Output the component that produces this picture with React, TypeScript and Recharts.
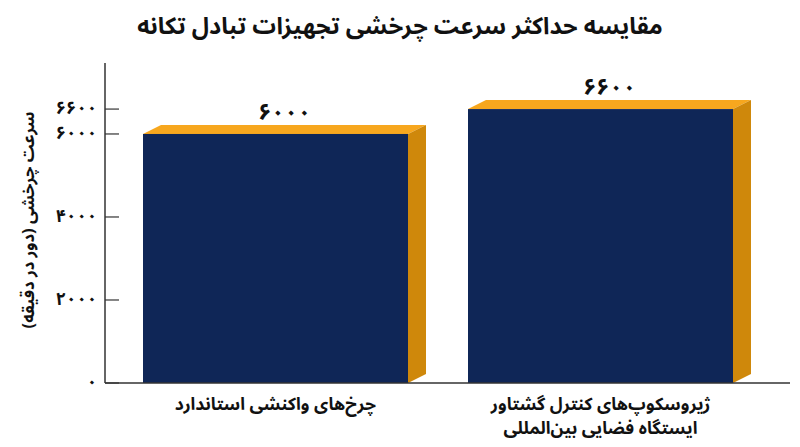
import React from 'react';
import { BarChart, Bar, XAxis, YAxis, LabelList, Label } from 'recharts';

const categories = [
  'چرخ\u200cهای واکنشی استاندارد',
  'ژیروسکوپ\u200cهای کنترل گشتاور\nایستگاه فضایی بین\u200cالمللی',
];
const maxSpeed = [6000, 6600];
const yTicks = [0, 2000, 4000, 6000, 6600];

const TITLE = 'مقایسه حداکثر سرعت چرخشی تجهیزات تبادل تکانه';
const Y_LABEL = 'سرعت چرخشی (دور در دقیقه)';

const FRONT = '#0f2657';
const TOP = '#f7a71e';
const SIDE = '#cf880b';
const AXIS = '#333333';
const FONT = '"Noto Sans Arabic", "Vazirmatn", "DejaVu Sans", sans-serif';
const DX = 18;
const DY = 9;

const data = categories.map((name, i) => ({ name, speed: maxSpeed[i] }));

const toFa = (n: number) => String(n).replace(/\d/g, (d) => '۰۱۲۳۴۵۶۷۸۹'[Number(d)]);

const Bar3D = (props: any) => {
  const { x, y, width, height } = props;
  return (
    <g>
      <polygon
        points={`${x},${y} ${x + DX},${y - DY} ${x + width + DX},${y - DY} ${x + width},${y}`}
        fill={TOP}
      />
      <polygon
        points={`${x + width},${y} ${x + width + DX},${y - DY} ${x + width + DX},${y + height - DY} ${x + width},${y + height}`}
        fill={SIDE}
      />
      <rect x={x} y={y} width={width} height={height} fill={FRONT} />
    </g>
  );
};

const ValueLabel = (props: any) => {
  const { x, y, width, value } = props;
  return (
    <text
      x={x + (width + DX) / 2}
      y={y - DY - 5}
      textAnchor="middle"
      fontFamily={FONT}
      fontWeight="bold"
      fontSize={23}
      fill="#111"
    >
      {toFa(value)}
    </text>
  );
};

const YTick = (props: any) => {
  const { x, y, payload } = props;
  return (
    <g>
      <line x1={x} y1={y} x2={x + 14} y2={y} stroke={AXIS} strokeWidth={1.2} />
      <text
        x={x - 8}
        y={y}
        dy={5}
        textAnchor="end"
        fontFamily={FONT}
        fontWeight="bold"
        fontSize={18}
        fill="#111"
      >
        {toFa(payload.value)}
      </text>
    </g>
  );
};

const XTick = (props: any) => {
  const { x, y, payload } = props;
  const lines = String(payload.value).split('\n');
  return (
    <g>
      {lines.map((line, i) => (
        <text
          key={i}
          x={x}
          y={y + 27 + i * 24}
          textAnchor="middle"
          direction="rtl"
          fontFamily={FONT}
          fontWeight="bold"
          fontSize={17.5}
          fill="#111"
        >
          {line}
        </text>
      ))}
    </g>
  );
};

export default function App() {
  return (
    <div style={{ position: 'absolute', left: 0, top: 0, width: 800, height: 447, background: '#fff' }}>
      <BarChart
        width={800}
        height={447}
        data={data}
        margin={{ top: 63, right: 10, bottom: 0, left: 0 }}
        barSize={265}
      >
        <text
          x={400}
          y={34}
          textAnchor="middle"
          direction="rtl"
          fontFamily={FONT}
          fontWeight="bold"
          fontSize={23.5}
          fill="#111"
        >
          {TITLE}
        </text>
        <XAxis
          dataKey="name"
          height={64}
          padding={{ left: 8, right: 27 }}
          tickLine={false}
          tickSize={0}
          tickMargin={0}
          interval={0}
          axisLine={{ stroke: AXIS, strokeWidth: 1.5 }}
          tick={<XTick />}
        />
        <YAxis
          width={105}
          domain={[0, 7710]}
          ticks={yTicks}
          interval={0}
          tickLine={false}
          tickSize={0}
          tickMargin={0}
          axisLine={{ stroke: AXIS, strokeWidth: 1.5 }}
          tick={<YTick />}
        >
          <Label
            content={() => (
              <text
                x={28}
                y={220}
                transform="rotate(-90, 28, 220)"
                textAnchor="middle"
                dominantBaseline="central"
                direction="rtl"
                fontFamily={FONT}
                fontWeight="bold"
                fontSize={16.5}
                fill="#111"
              >
                {Y_LABEL}
              </text>
            )}
          />
        </YAxis>
        <Bar dataKey="speed" shape={<Bar3D />} isAnimationActive={false}>
          <LabelList dataKey="speed" content={<ValueLabel />} />
        </Bar>
      </BarChart>
    </div>
  );
}
